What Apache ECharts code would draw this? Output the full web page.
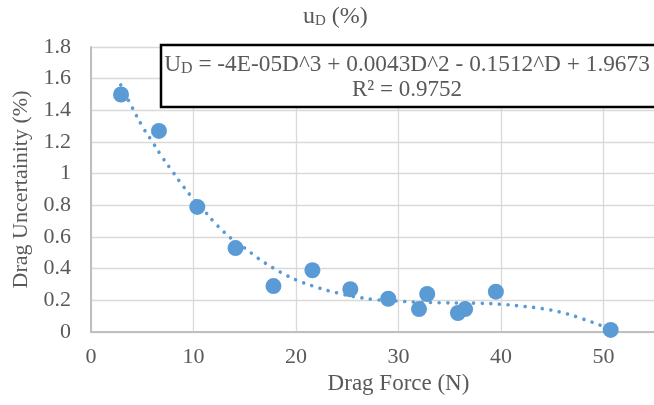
<!DOCTYPE html>
<html>
<head>
<meta charset="utf-8">
<script src="https://cdn.jsdelivr.net/npm/echarts@6/dist/echarts.min.js"></script>
<style>
  html, body { margin: 0; padding: 0; background: #fff; }
  #chart { width: 654px; height: 405px; }
</style>
</head>
<body>
<div id="chart"></div>
<script>
// measured points: drag force (N) vs drag uncertainty (%)
const forceN = [2.93, 6.63, 10.37, 14.1, 17.8, 21.6, 25.3, 29.0, 32.0, 32.8, 35.8, 36.5, 39.5, 50.7];
const uncertainty = [1.50, 1.27, 0.79, 0.53, 0.29, 0.39, 0.27, 0.21, 0.145, 0.24, 0.12, 0.145, 0.255, 0.013];

// dotted trendline
const trendX = [2.9, 4, 5, 6, 7, 8, 9, 10, 11, 12, 13, 14, 15, 16, 17, 18, 19, 20, 22, 24, 26, 28, 30, 32, 34, 36, 38, 40, 42, 44, 46, 48, 50, 50.7];
const trendY = [1.56, 1.42, 1.30, 1.20, 1.10, 1.01, 0.92, 0.84, 0.77, 0.695, 0.63, 0.575, 0.53, 0.48, 0.435, 0.396, 0.36, 0.33, 0.283, 0.247, 0.22, 0.203, 0.195, 0.188, 0.185, 0.183, 0.181, 0.175, 0.163, 0.148, 0.122, 0.082, 0.035, 0.015];

const xTicks = { min: 0, max: 60, interval: 10 };
const yTicks = { min: 0, max: 1.8, interval: 0.2 };

const titleText = '{a|u}{b|D}{a| (%)}';
const eqLine1 = '{a|U}{b|D}{a| = -4E-05D^3 + 0.0043D^2 - 0.1512^D + 1.9673}';
const eqLine2 = 'R² = 0.9752';

const font = 'Liberation Serif';
const grey = '#595959';
const blue = '#5b9bd5';

const chart = echarts.init(document.getElementById('chart'));

const option = {
  backgroundColor: '#fff',
  animation: false,
  grid: {
    left: 91,
    top: 47,
    bottom: 73,
    right: -52,
    outerBoundsMode: 'none'
  },
  xAxis: {
    type: 'value',
    min: xTicks.min,
    max: xTicks.max,
    interval: xTicks.interval,
    name: 'Drag Force (N)',
    nameLocation: 'middle',
    nameGap: 38,
    nameTextStyle: { fontFamily: font, fontSize: 23, color: grey },
    axisLine: { show: true, lineStyle: { color: '#bfbfbf', width: 2 } },
    axisTick: { show: false },
    axisLabel: { fontFamily: font, fontSize: 22, color: grey, margin: 14 },
    splitLine: { show: true, lineStyle: { color: '#d9d9d9', width: 1.3 } }
  },
  yAxis: {
    type: 'value',
    min: yTicks.min,
    max: yTicks.max,
    interval: yTicks.interval,
    name: 'Drag Uncertainity (%)',
    nameLocation: 'middle',
    nameGap: 55,
    nameTextStyle: { fontFamily: font, fontSize: 22, color: grey },
    axisLine: { show: true, lineStyle: { color: '#bfbfbf', width: 2 } },
    axisTick: { show: false },
    axisLabel: { fontFamily: font, fontSize: 22, color: grey, margin: 20 },
    splitLine: { show: true, lineStyle: { color: '#d9d9d9', width: 1.3 } }
  },
  series: [
    {
      name: 'trend',
      type: 'line',
      data: trendX.map((x, i) => [x, trendY[i]]),
      smooth: true,
      symbol: 'none',
      z: 2,
      lineStyle: { color: blue, width: 3.6, type: [0.01, 8.6], cap: 'round' }
    },
    {
      name: 'uD',
      type: 'scatter',
      data: forceN.map((x, i) => [x, uncertainty[i]]),
      symbolSize: 16,
      z: 3,
      itemStyle: { color: blue, opacity: 1 }
    }
  ],
  graphic: [
    {
      type: 'text',
      left: 303,
      top: 5,
      style: {
        text: titleText,
        rich: {
          a: { fontFamily: font, fontSize: 24, fill: grey, verticalAlign: 'bottom' },
          b: { fontFamily: font, fontSize: 15, fill: grey, verticalAlign: 'bottom' }
        }
      }
    },
    {
      type: 'rect',
      z: 10,
      shape: { x: 161, y: 45, width: 520, height: 62 },
      style: { fill: '#fff', stroke: '#000', lineWidth: 2.5 }
    },
    {
      type: 'text',
      z: 11,
      x: 407,
      y: 65,
      style: {
        text: eqLine1,
        align: 'center',
        verticalAlign: 'middle',
        rich: {
          a: { fontFamily: font, fontSize: 23.3, fill: grey, verticalAlign: 'bottom' },
          b: { fontFamily: font, fontSize: 16, fill: grey, verticalAlign: 'bottom' }
        }
      }
    },
    {
      type: 'text',
      z: 11,
      x: 407,
      y: 90,
      style: {
        text: eqLine2,
        align: 'center',
        verticalAlign: 'middle',
        fontFamily: font,
        fontSize: 23,
        fill: grey
      }
    }
  ]
};

chart.setOption(option);
</script>
</body>
</html>
